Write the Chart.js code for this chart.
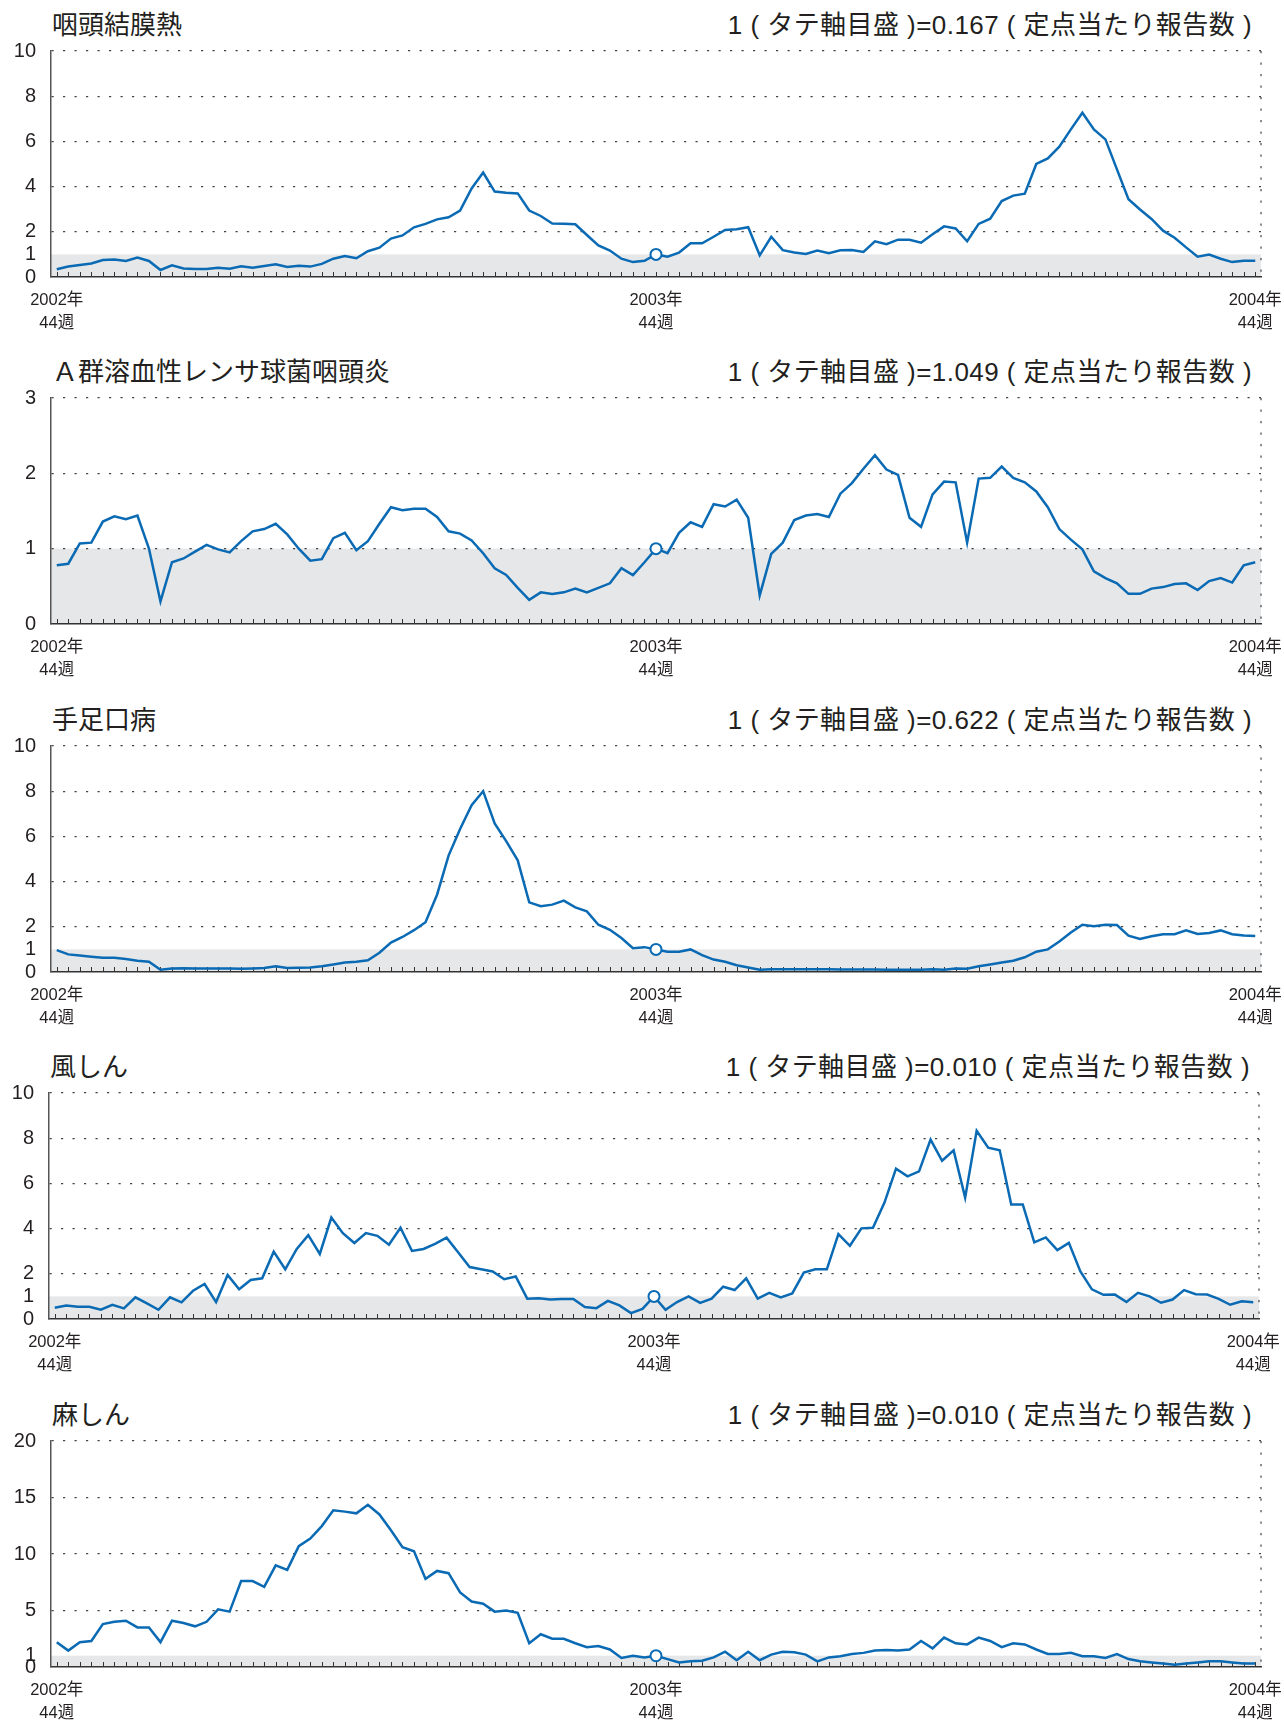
<!DOCTYPE html>
<html lang="ja">
<head>
<meta charset="utf-8">
<title>定点当たり報告数の推移</title>
<script src="https://cdn.jsdelivr.net/npm/chart.js@4.4.1/dist/chart.umd.min.js"></script>
<style>
  body { margin: 0; background: #fff; }
  #page { position: relative; width: 1284px; height: 1721px; overflow: hidden;
          font-family: "Liberation Sans", "Noto Sans CJK JP", sans-serif; color: #231f20; }
  .title, .note { position: absolute; font-size: 26px; line-height: 26px; white-space: nowrap; }
  .note { letter-spacing: 0.45px; }
  canvas { position: absolute; }
</style>
</head>
<body>
<div id="page"></div>
<script>
// weekly categories, 2002 week 44 .. 2004 week 44
const weeks = [];
for (let w = 44; w <= 52; w++) weeks.push("2002年" + w + "週");
for (let w = 1; w <= 52; w++) weeks.push("2003年" + w + "週");
for (let w = 1; w <= 44; w++) weeks.push("2004年" + w + "週");

const labelAt = [0, 52, 104];
const currentWeek = 52;

const titles = ["咽頭結膜熱", "Ａ群溶血性レンサ球菌咽頭炎", "手足口病", "風しん", "麻しん"];
const notes = [
  "1 ( タテ軸目盛 )=0.167 ( 定点当たり報告数 )",
  "1 ( タテ軸目盛 )=1.049 ( 定点当たり報告数 )",
  "1 ( タテ軸目盛 )=0.622 ( 定点当たり報告数 )",
  "1 ( タテ軸目盛 )=0.010 ( 定点当たり報告数 )",
  "1 ( タテ軸目盛 )=0.010 ( 定点当たり報告数 )",
];

const pharyngoconjunctivalFever = [
  0.34, 0.46, 0.53, 0.6, 0.75, 0.77, 0.71, 0.86, 0.71, 0.31,
  0.52, 0.38, 0.35, 0.35, 0.41, 0.37, 0.47, 0.41, 0.49, 0.56,
  0.44, 0.5, 0.46, 0.58, 0.81, 0.93, 0.83, 1.14, 1.3, 1.7,
  1.84, 2.2, 2.35, 2.55, 2.64, 2.94, 3.92, 4.62, 3.78, 3.73,
  3.7, 2.94, 2.7, 2.37, 2.36, 2.33, 1.86, 1.4, 1.17, 0.81,
  0.66, 0.72, 1.0, 0.9, 1.08, 1.49, 1.49, 1.78, 2.08, 2.11,
  2.2, 0.96, 1.78, 1.19, 1.08, 1.02, 1.17, 1.05, 1.18, 1.19,
  1.11, 1.58, 1.45, 1.65, 1.65, 1.52, 1.89, 2.24, 2.15, 1.58,
  2.35, 2.58, 3.36, 3.6, 3.69, 5.0, 5.25, 5.77, 6.53, 7.27,
  6.53, 6.09, 4.76, 3.44, 2.99, 2.57, 2.05, 1.74, 1.31, 0.9,
  0.99, 0.81, 0.66, 0.72, 0.72
];
const groupAStrep = [
  0.78, 0.8, 1.07, 1.08, 1.36, 1.43, 1.39, 1.44, 1.0, 0.3,
  0.82, 0.87, 0.96, 1.05, 0.99, 0.95, 1.1, 1.23, 1.26, 1.33,
  1.19, 1.0, 0.84, 0.86, 1.14, 1.21, 0.98, 1.1, 1.33, 1.55,
  1.51, 1.53, 1.53, 1.42, 1.23, 1.2, 1.11, 0.94, 0.74, 0.65,
  0.48, 0.32, 0.42, 0.4, 0.42, 0.47, 0.42, 0.48, 0.54, 0.74,
  0.65, 0.82, 1.0, 0.94, 1.21, 1.35, 1.29, 1.59, 1.56, 1.65,
  1.41, 0.38, 0.93, 1.08, 1.38, 1.44, 1.46, 1.42, 1.73, 1.87,
  2.06, 2.24, 2.05, 1.98, 1.41, 1.29, 1.72, 1.89, 1.88, 1.08,
  1.93, 1.94, 2.09, 1.94, 1.88, 1.76, 1.55, 1.26, 1.12, 0.99,
  0.7, 0.61, 0.54, 0.4, 0.4, 0.47, 0.49, 0.53, 0.54, 0.45,
  0.57, 0.61, 0.55, 0.78, 0.82
];
const handFootMouth = [
  0.97, 0.78, 0.73, 0.68, 0.63, 0.63, 0.58, 0.5, 0.45, 0.1,
  0.15, 0.17, 0.16, 0.16, 0.16, 0.15, 0.14, 0.16, 0.18, 0.25,
  0.18, 0.19, 0.2, 0.25, 0.33, 0.42, 0.45, 0.52, 0.85, 1.3,
  1.55, 1.85, 2.2, 3.42, 5.15, 6.33, 7.38, 8.0, 6.57, 5.79,
  4.94, 3.08, 2.91, 2.98, 3.16, 2.86, 2.68, 2.09, 1.87, 1.5,
  1.05, 1.1, 1.0, 0.9, 0.9, 1.0, 0.75, 0.55, 0.45, 0.3,
  0.2, 0.1, 0.12, 0.12, 0.12, 0.12, 0.12, 0.12, 0.11, 0.11,
  0.11, 0.11, 0.1, 0.1, 0.1, 0.1, 0.12, 0.1, 0.15, 0.14,
  0.25, 0.33, 0.42, 0.5, 0.65, 0.9, 1.0, 1.35, 1.75, 2.09,
  2.02, 2.09, 2.08, 1.61, 1.46, 1.58, 1.67, 1.67, 1.84, 1.68,
  1.73, 1.84, 1.67, 1.61, 1.59
];
const rubella = [
  0.5, 0.6, 0.54, 0.54, 0.41, 0.63, 0.47, 0.96, 0.69, 0.41,
  0.96, 0.74, 1.25, 1.55, 0.75, 1.95, 1.32, 1.73, 1.8, 2.98,
  2.2, 3.1, 3.71, 2.88, 4.49, 3.8, 3.36, 3.8, 3.68, 3.29,
  4.04, 3.01, 3.1, 3.32, 3.6, 2.95, 2.3, 2.2, 2.1, 1.76,
  1.88, 0.9, 0.92, 0.86, 0.88, 0.89, 0.53, 0.48, 0.8, 0.6,
  0.26, 0.45, 1.0, 0.41, 0.75, 1.0, 0.71, 0.9, 1.43, 1.28,
  1.8, 0.9, 1.16, 0.95, 1.13, 2.05, 2.2, 2.2, 3.76, 3.24,
  4.01, 4.04, 5.15, 6.65, 6.31, 6.53, 7.94, 7.0, 7.46, 5.37,
  8.33, 7.58, 7.47, 5.07, 5.07, 3.39, 3.61, 3.05, 3.37, 2.1,
  1.31, 1.07, 1.08, 0.75, 1.16, 1.0, 0.72, 0.86, 1.28, 1.1,
  1.08, 0.89, 0.63, 0.78, 0.74
];
const measles = [
  2.2, 1.45, 2.2, 2.3, 3.8, 4.0, 4.1, 3.5, 3.5, 2.2,
  4.1, 3.9, 3.6, 4.0, 5.1, 4.9, 7.6, 7.6, 7.1, 9.0,
  8.6, 10.7, 11.36, 12.47, 13.86, 13.75, 13.6, 14.36, 13.5, 12.1,
  10.6, 10.24, 7.8, 8.5, 8.3, 6.6, 5.8, 5.6, 4.9, 5.0,
  4.8, 2.1, 2.9, 2.5, 2.5, 2.1, 1.75, 1.85, 1.55, 0.8,
  1.0, 0.85, 1.0, 0.7, 0.4, 0.5, 0.55, 0.85, 1.35, 0.6,
  1.35, 0.6, 1.1, 1.35, 1.3, 1.1, 0.5, 0.85, 0.95, 1.15,
  1.25, 1.45, 1.5, 1.45, 1.55, 2.3, 1.65, 2.6, 2.1, 2.0,
  2.6, 2.3, 1.75, 2.1, 2.0, 1.55, 1.15, 1.15, 1.25, 0.95,
  0.95, 0.8, 1.15, 0.7, 0.5, 0.4, 0.3, 0.2, 0.3, 0.4,
  0.5, 0.5, 0.4, 0.3, 0.3
];
const series = [pharyngoconjunctivalFever, groupAStrep, handFootMouth, rubella, measles];

const yTicks = [
  [0, 1, 2, 4, 6, 8, 10],
  [0, 1, 2, 3],
  [0, 1, 2, 4, 6, 8, 10],
  [0, 1, 2, 4, 6, 8, 10],
  [0, 1, 5, 10, 15, 20],
];

// layout
const plotTops = [51, 398, 746, 1093, 1441];
const shifts = [0, 0, 0, -2, 0];
const blue = "#0a6ab4";
const dots = [2.2, 9.3];

Chart.defaults.font.family = '"Liberation Sans", "Noto Sans CJK JP", sans-serif';
Chart.defaults.color = "#231f20";

// grey band 0..1, dotted right edge, small inward ticks on the x axis
const decor = {
  id: "decor",
  beforeDraw(chart) {
    const { ctx, chartArea: a, scales: { y } } = chart;
    const top = y.getPixelForValue(1);
    ctx.save();
    ctx.fillStyle = "#e6e7e8";
    ctx.fillRect(a.left, top, a.right - a.left, y.getPixelForValue(0) - top);
    ctx.restore();
  },
  beforeDatasetsDraw(chart) {
    const { ctx, chartArea: a, scales: { x } } = chart;
    ctx.save();
    ctx.strokeStyle = "#444";
    ctx.lineWidth = 1.2;
    ctx.setLineDash(dots);
    ctx.beginPath();
    ctx.moveTo(a.right, a.top);
    ctx.lineTo(a.right, a.bottom);
    ctx.stroke();
    ctx.setLineDash([]);
    ctx.strokeStyle = "#333";
    ctx.lineWidth = 1;
    ctx.beginPath();
    x.ticks.forEach((t, i) => {
      const px = Math.round(x.getPixelForTick(i)) + 0.5;
      ctx.moveTo(px, a.bottom);
      ctx.lineTo(px, a.bottom - 5);
    });
    ctx.stroke();
    ctx.restore();
  }
};

const page = document.getElementById("page");

plotTops.forEach((top, k) => {
  const dx = shifts[k];

  const t = document.createElement("div");
  t.className = "title";
  t.textContent = titles[k];
  t.style.left = (52 + dx) + "px";
  t.style.top = (top - 39) + "px";
  page.appendChild(t);

  const n = document.createElement("div");
  n.className = "note";
  n.textContent = notes[k];
  n.style.right = (32 - dx) + "px";
  n.style.top = (top - 39) + "px";
  page.appendChild(n);

  const cv = document.createElement("canvas");
  cv.width = 1284;
  cv.height = 298;
  cv.style.left = dx + "px";
  cv.style.top = (top - 12) + "px";
  page.appendChild(cv);

  const ticks = yTicks[k];
  new Chart(cv, {
    type: "line",
    data: {
      labels: weeks,
      datasets: [{
        data: series[k],
        borderColor: blue,
        borderWidth: 2.5,
        tension: 0,
        pointRadius: c => (c.dataIndex === currentWeek ? 5.5 : 0),
        pointHoverRadius: 0,
        pointBackgroundColor: "#fff",
        pointBorderColor: blue,
        pointBorderWidth: 2
      }]
    },
    options: {
      responsive: false,
      animation: false,
      events: [],
      layout: { padding: { top: 12, right: 23, left: 0, bottom: 0 } },
      plugins: { legend: { display: false }, tooltip: { enabled: false } },
      scales: {
        x: {
          type: "category",
          offset: true,
          grid: { display: false },
          border: { color: "#333", width: 1.5 },
          afterFit: s => { s.height = 60; s.paddingLeft = 0; s.paddingRight = 0; },
          ticks: {
            autoSkip: false,
            maxRotation: 0,
            minRotation: 0,
            padding: 4,
            font: { size: 16.5, lineHeight: 1.4 },
            callback: (v, i) => labelAt.includes(i) ? [weeks[i].slice(0, 5), weeks[i].slice(5)] : ""
          }
        },
        y: {
          min: 0,
          max: ticks[ticks.length - 1],
          afterBuildTicks: s => { s.ticks = ticks.map(v => ({ value: v })); },
          afterFit: s => { s.width = 51; s.paddingTop = 0; s.paddingBottom = 0; },
          grid: {
            drawTicks: false,
            lineWidth: 1.2,
            color: c => {
              const v = c.tick ? c.tick.value : null;
              if (v === 0 || (v === 1 && ticks.length > 4)) return "rgba(0,0,0,0)";
              return "#444";
            }
          },
          border: { color: "#555", width: 1.5, dash: dots },
          ticks: { padding: 15, font: { size: 20 } }
        }
      }
    },
    plugins: [decor]
  });
});
</script>
</body>
</html>
